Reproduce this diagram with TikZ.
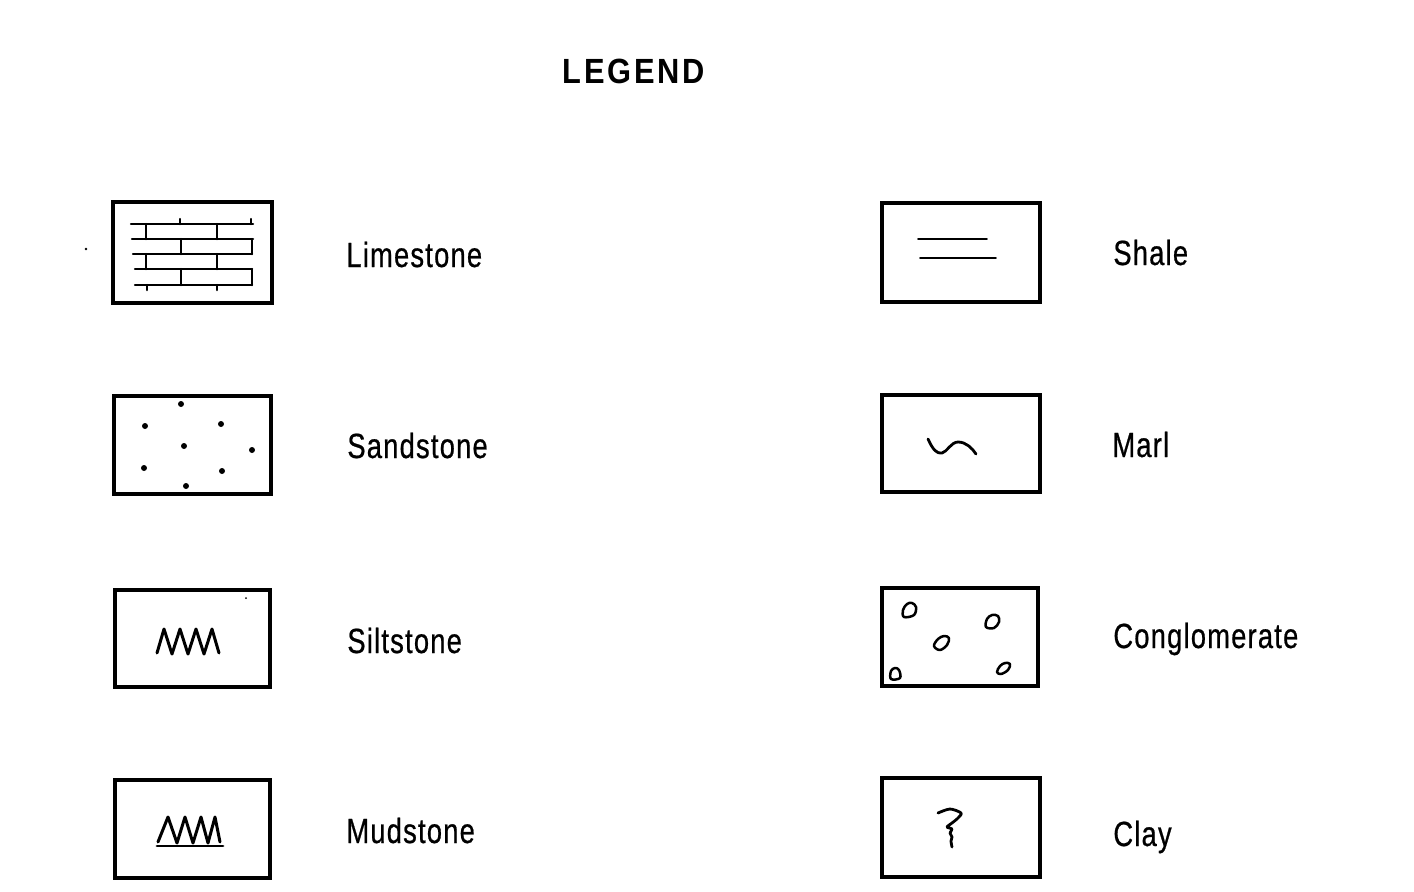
\documentclass[tikz,border=0pt]{standalone}
\usepackage{fontspec}
\newfontfamily\labfont[FakeStretch=0.78,LetterSpace=3.5,FakeBold=0.6]{Liberation Sans}
\newfontfamily\titlefont[LetterSpace=8,FakeStretch=0.88]{Liberation Sans Bold}
\begin{document}
\begin{tikzpicture}[x=0.5pt,y=-0.5pt,
  box/.style={line width=1.9pt},
  pat/.style={line width=1.25pt,line cap=round,line join=round},
  thin/.style={line width=0.9pt,line cap=round},
  lab/.style={anchor=base west,inner sep=0pt,font=\labfont\fontsize{17.5pt}{20pt}\selectfont},
  ttl/.style={anchor=base,inner sep=0pt,font=\titlefont\fontsize{17.5pt}{20pt}\selectfont}]
\useasboundingbox (0,0) rectangle (1414,891);
% title
\node[ttl] (title) at (634,83) {LEGEND};
% ---------- Limestone
\draw[box,line width=2.1pt] (113,202) rectangle (272,303);
\draw[pat] (131,224) -- (253,224);
\draw[pat] (132,239) -- (253,239);
\draw[pat] (133,254) -- (252,254);
\draw[pat] (135,269) -- (252,269);
\draw[pat] (135,285) -- (252,285);
\draw[pat] (146,224) -- (146,239) (217,224) -- (217,239);
\draw[pat] (181,239) -- (181,254) (252,239) -- (252,254);
\draw[pat] (146,254) -- (146,269) (217,254) -- (217,269);
\draw[pat] (181,269) -- (181,285) (252,269) -- (252,285);
\draw[pat] (180,219) -- (180,224) (251,219) -- (251,224);
\draw[pat] (147,285) -- (147,290) (217,285) -- (217,290);
\node[lab] (limestone) at (346,267) {Limestone};
\fill (86,249) circle (1.3);
% ---------- Sandstone
\draw[box,line width=2.1pt] (114,396) rectangle (271,494);
\foreach \p in {(181,404),(145,426),(221,424),(184,446),(252,450),(144,468),(222,471),(186,486)}
  \fill \p circle (3);
\node[lab] (sandstone) at (347,458) {Sandstone};
% ---------- Siltstone
\draw[box] (115,590) rectangle (270,687);
\draw[pat,line width=1.5pt] (157,653) -- (164,629) -- (172,654) -- (180,629) -- (188,654) -- (196,629) -- (204,654) -- (212,629) -- (219,653);
\fill (246,598) circle (1);
\node[lab] (siltstone) at (347,653) {Siltstone};
% ---------- Mudstone
\draw[box] (115,780) rectangle (270,878);
\draw[pat,line width=1.5pt] (158,842) -- (168,817) -- (177,843) -- (185,817) -- (193,843) -- (201,817) -- (208,843) -- (215,817) -- (220,842);
\draw[pat,line width=1.4pt] (157,846) -- (223,846);
\node[lab] (mudstone) at (346,843) {Mudstone};
% ---------- Shale
\draw[box] (882,203) rectangle (1040,302);
\draw[thin] (918,239) -- (987,239);
\draw[thin] (920,258) -- (996,258);
\node[lab] (shale) at (1113,265) {Shale};
% ---------- Marl
\draw[box] (882,395) rectangle (1040,492);
\draw[pat,line width=1.4pt] (928,439) .. controls (933,450) and (937,454) .. (942,453) .. controls (947,452) and (951,442) .. (958,442) .. controls (966,442) and (972,448) .. (976,454);
\node[lab] (marl) at (1112,457) {Marl};
% ---------- Conglomerate
\draw[box] (882,588) rectangle (1038,686);
\draw[pat] plot[smooth cycle,tension=0.6] coordinates {(904,617) (903,610) (907,604) (912,603) (916,607) (914,615)};
\draw[pat] plot[smooth cycle,tension=0.6] coordinates {(986,627) (987,619) (992,615) (998,616) (999,622) (994,628)};
\draw[pat] plot[smooth cycle,tension=0.6] coordinates {(934,646) (938,639) (944,636) (949,638) (947,645) (940,650)};
\draw[pat] plot[smooth cycle,tension=0.6] coordinates {(891,679) (891,671) (895,668) (899,670) (900,678)};
\draw[pat] plot[smooth cycle,tension=0.6] coordinates {(997,672) (1000,666) (1005,663) (1010,664) (1008,670) (1001,674)};
\node[lab] (conglomerate) at (1113,648) {Conglomerate};
% ---------- Clay
\draw[box] (882,778) rectangle (1040,877);
\draw[pat,line width=1.4pt] plot[smooth,tension=0.5] coordinates {(938,813) (950,809) (961,813) (958,818) (952,823) (947,827) (952,829) (950,833) (952,837) (951,841) (952,847)};
\node[lab] (clay) at (1113,846) {Clay};
\end{tikzpicture}
\end{document}
